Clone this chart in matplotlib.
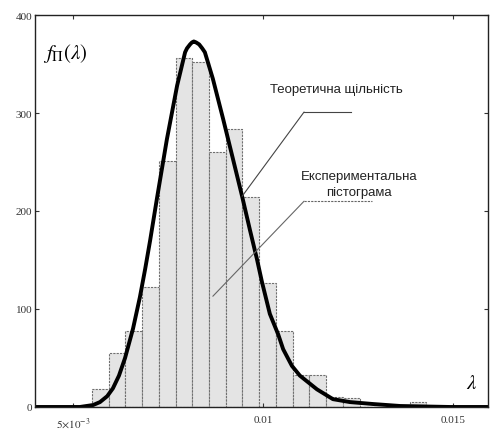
import numpy as np
import matplotlib
matplotlib.use("Agg")
import matplotlib.pyplot as plt

plt.rcParams["mathtext.fontset"] = "stix"

bin_edges = [0.00550, 0.00594, 0.00638, 0.00682, 0.00726, 0.00770, 0.00814,
             0.00858, 0.00902, 0.00946, 0.00990, 0.01034, 0.01078, 0.01122,
             0.01166, 0.01210, 0.01254, 0.01298, 0.01342, 0.01386, 0.01430]
counts = [18, 55, 78, 122, 251, 356, 352, 260, 284, 214,
          127, 78, 33, 33, 10, 9, 0, 0, 0, 5]

# theoretical density, sampled along the drawn curve
curve_x = [0.00400, 0.00518, 0.00553, 0.00571, 0.00590, 0.00605, 0.00621,
           0.00637, 0.00658, 0.00676, 0.00690, 0.00703, 0.00721, 0.00747,
           0.00774, 0.00795, 0.00800, 0.00808, 0.00813, 0.00818, 0.00824,
           0.00832, 0.00840, 0.00847, 0.00868, 0.00895, 0.00921, 0.00945,
           0.00966, 0.00984, 0.00997, 0.01018, 0.01040, 0.01053, 0.01076,
           0.01097, 0.01142, 0.01184, 0.01229, 0.01290, 0.01361, 0.01492,
           0.01592]
curve_y = [0, 0, 2, 5, 11, 19, 32, 50, 80, 112, 141, 170, 213, 273,
           328, 362, 366, 370, 372, 373, 372, 370, 366, 362, 335, 294,
           253, 215, 180, 151, 128, 95, 74, 59, 42, 32, 18, 8, 5, 3, 1,
           0, 0]

x_ticks = [0.005, 0.01, 0.015]
x_tick_labels = [r"$5{\times}10^{-3}$", "0.01", "0.015"]
y_ticks = [0, 100, 200, 300, 400]

label_theory = "Теоретична щільність"
label_hist = "Експериментальна\nпістограма"

fig = plt.figure(figsize=(4.9, 4.35), dpi=100)
ax = fig.add_axes([0.0714, 0.0621, 0.9245, 0.9011])

ax.hist(bin_edges[:-1], bins=bin_edges, weights=counts,
        facecolor="#e4e4e4", edgecolor="#6f6f6f", linewidth=0.8,
        linestyle=(0, (2, 1)))
ax.plot(curve_x, curve_y, color="black", linewidth=2.8,
        solid_capstyle="round", solid_joinstyle="round")

ax.set_xlim(0.0040, 0.01592)
ax.set_ylim(0, 400)

ax.set_xticks(x_ticks)
ax.set_xticklabels(x_tick_labels, family="Liberation Serif", fontsize=8,
                   color="#333333")
ax.set_yticks(y_ticks)
ax.set_yticklabels([str(v) for v in y_ticks], family="Liberation Serif",
                   fontsize=8, color="#333333")
ax.tick_params(axis="x", pad=6)
ax.tick_params(axis="y", pad=2)
ax.tick_params(direction="in", length=3, width=0.8, top=True, right=True,
               colors="#333333", labelcolor="#333333")
for side in ["left", "top", "right", "bottom"]:
    ax.spines[side].set_linewidth(1.0)
    ax.spines[side].set_color("#222222")

# axis captions written inside the plot area
ax.text(0.0042, 362, r"$f_{\Pi}(\lambda)$", fontsize=15, family="serif",
        va="center", ha="left")
ax.text(0.01550, 25, r"$\lambda$", fontsize=15, va="center", ha="center")

# leader annotations
ax.text(0.01192, 325, label_theory, family="Liberation Sans", fontsize=9.5,
        ha="center", va="center", color="#222222")
ax.annotate("", xy=(0.00945, 215), xytext=(0.01108, 301),
            arrowprops=dict(arrowstyle="-", color="#444444", lw=0.8,
                            shrinkA=0, shrinkB=0))
ax.plot([0.01108, 0.01232], [301, 301], color="#444444", linewidth=0.8)

ax.text(0.01252, 228, label_hist, family="Liberation Sans", fontsize=9.5,
        ha="center", va="center", color="#222222", linespacing=1.45)
ax.annotate("", xy=(0.00868, 113), xytext=(0.01108, 210),
            arrowprops=dict(arrowstyle="-", color="#666666", lw=0.8,
                            shrinkA=0, shrinkB=0))
ax.plot([0.01108, 0.01287], [210, 210], color="#666666", linewidth=0.8,
        linestyle=(0, (2, 1)))

fig.savefig("out.png", dpi=100)
